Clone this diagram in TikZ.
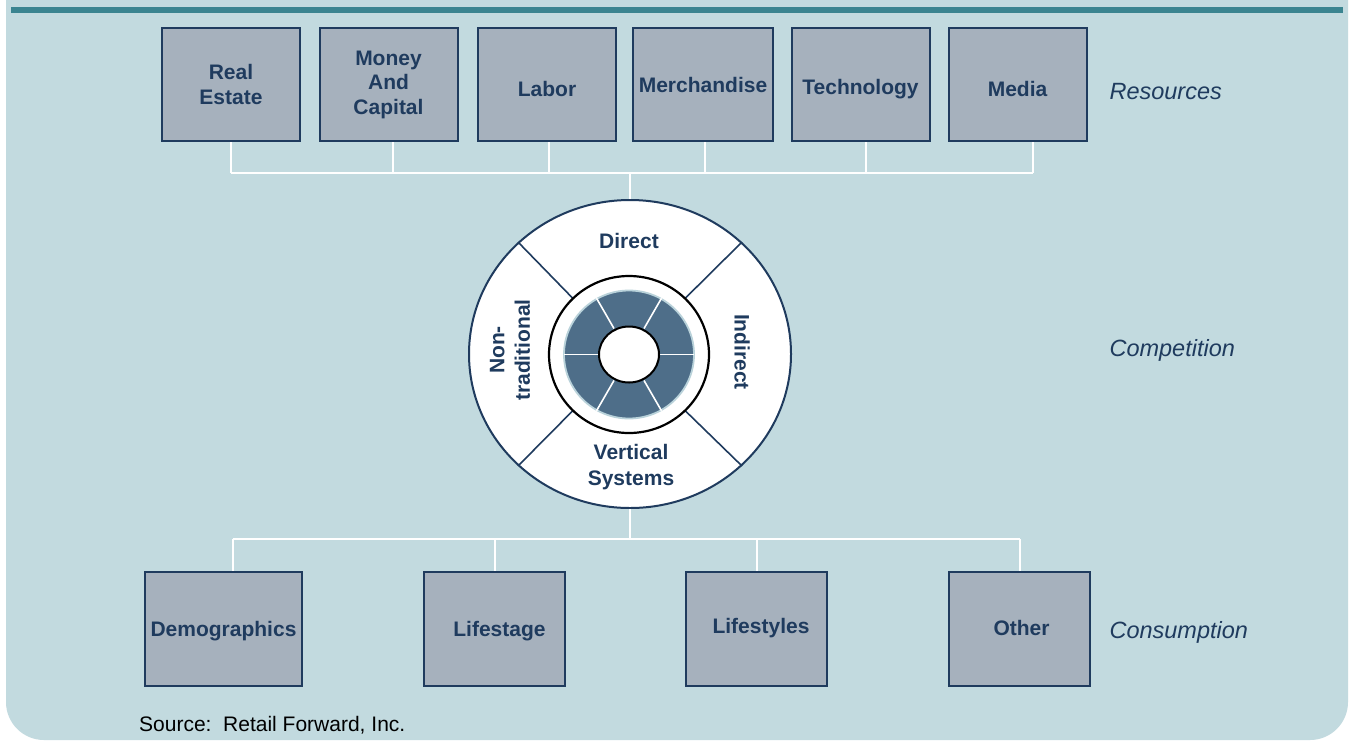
\documentclass[tikz,border=0pt]{standalone}
\usepackage{fontspec}
\setmainfont{Liberation Sans}
\usetikzlibrary{shapes.geometric}

\definecolor{panel}{HTML}{C2DADF}
\definecolor{barteal}{HTML}{3A8490}
\definecolor{boxfill}{HTML}{A6B1BD}
\definecolor{navy}{HTML}{1F3B5E}
\definecolor{ringblue}{HTML}{4E6E89}
\definecolor{halo}{HTML}{B9D2DA}

\tikzset{
  resbox/.style={draw=navy, line width=2pt, fill=boxfill, minimum width=138pt,
    minimum height=113pt, inner sep=6pt, align=center, text=navy,
    font=\fontsize{21}{24.5}\selectfont\bfseries},
  oneline/.style={text height=#1, text depth=0pt},
  conbox/.style={resbox, minimum width=141pt, minimum height=114pt},
  seg/.style={text=navy, align=center, inner sep=0pt,
    font=\fontsize{21}{25.5}\selectfont\bfseries},
  tag/.style={text=navy, anchor=west, font=\fontsize{23.5}{26}\selectfont\itshape},
  link/.style={white, line width=2pt}
}

\begin{document}
\begin{tikzpicture}[x=1pt, y=-1pt]
    % Page and panel
    \useasboundingbox (0,0) rectangle (1351,740);
    \clip (0,0) rectangle (1351,740);
    \fill[white] (0,0) rectangle (1351,740);
    \fill[panel, rounded corners=38pt] (6,-60) rectangle (1348,740);
    \draw[barteal, line width=6pt] (11,10) -- (1343,10);

    % Resources
    \node[resbox] (estate) at (231,84.5) {Real\\Estate};
    \node[resbox] (money) at (388.5,84.5) {Money\\And\\Capital};
    \node[resbox, oneline=24pt] (labor) at (547,84.5) {Labor};
    \node[resbox, oneline=15pt] (merch) at (703,84.5) {Merchandise};
    \node[resbox, oneline=20pt] (tech) at (860.5,84.5) {Technology};
    \node[resbox, oneline=24pt] (media) at (1017.5,84.5) {Media};

    % Competition wheel
    \node[ellipse, draw=navy, line width=2pt, fill=white, inner sep=0pt,
          minimum width=322pt, minimum height=308pt] (wheel) at (630,354) {};
    \node[ellipse, inner sep=0pt, minimum width=160pt, minimum height=157pt]
          (hub) at (629,354.5) {};
    \foreach \a in {45,135,225,315}
        \draw[navy, line width=1.6pt] (hub.\a) -- (wheel.\a);
    \draw[black, line width=2.2pt, fill=white] (hub.center) ellipse [x radius=80pt, y radius=78.5pt];
    \fill[ringblue, even odd rule] (hub.center) ellipse [x radius=65pt, y radius=64pt]
        (hub.center) ellipse [x radius=30pt, y radius=28pt];
    \draw[halo, line width=1.8pt] (hub.center) ellipse [x radius=65pt, y radius=64pt];
    \foreach \a in {0,60,...,300}
        \draw[white, line width=1.6pt] ([shift={(\a:30pt)}]hub.center) -- ([shift={(\a:65pt)}]hub.center);
    \draw[black, line width=2pt, fill=white] (hub.center) ellipse [x radius=30pt, y radius=28pt];

    \node[seg] (direct) at (629,241) {Direct};
    \node[seg, rotate=-90] (indirect) at (742,352) {Indirect};
    \node[seg] (vertical) at (631,467) {Vertical\\Systems};
    \node[seg, rotate=90] (nontrad) at (510,350) {Non-\\traditional};

    % Consumption
    \node[conbox, oneline=15pt] (demo) at (223.5,629) {Demographics};
    \node[conbox, oneline=15pt] (stage) at (494.5,629) {\hspace*{10pt}Lifestage};
    \node[conbox, oneline=9pt] (styles) at (756.5,629) {\hspace*{9pt}Lifestyles};
    \node[conbox, oneline=13pt] (other) at (1019.5,629) {\hspace*{4pt}Other};

    % Connectors
    \coordinate (topbus) at (630,173);
    \coordinate (lowbus) at (630,539);
    \draw[link] (estate.south) -- (estate.south |- topbus);
    \draw[link] ([xshift=4pt]money.south) -- ([xshift=4pt]money.south |- topbus);
    \draw[link] ([xshift=2pt]labor.south) -- ([xshift=2pt]labor.south |- topbus);
    \draw[link] ([xshift=2pt]merch.south) -- ([xshift=2pt]merch.south |- topbus);
    \draw[link] ([xshift=5pt]tech.south) -- ([xshift=5pt]tech.south |- topbus);
    \draw[link] ([xshift=15pt]media.south) -- ([xshift=15pt]media.south |- topbus);
    \draw[link] (estate.south |- topbus) -- ([xshift=15pt]media.south |- topbus);
    \draw[link] (wheel.north |- topbus) -- (wheel.north);

    \draw[link] (wheel.south) -- (wheel.south |- lowbus);
    \draw[link] ([xshift=9pt]demo.north |- lowbus) -- (other.north |- lowbus);
    \draw[link] ([xshift=9pt]demo.north |- lowbus) -- ([xshift=9pt]demo.north);
    \draw[link] (stage.north |- lowbus) -- (stage.north);
    \draw[link] (styles.north |- lowbus) -- (styles.north);
    \draw[link] (other.north |- lowbus) -- (other.north);

    % Row labels
    \node[tag] (restag) at (1106,92) {Resources};
    \node[tag] (comptag) at (1106,350) {Competition};
    \node[tag] (constag) at (1106,632) {Consumption};

    % Source note
    \node[anchor=west, inner sep=0pt, font=\fontsize{21}{24}\selectfont] (source)
        at (139,725) {Source:\ \ Retail Forward, Inc.};
\end{tikzpicture}
\end{document}
